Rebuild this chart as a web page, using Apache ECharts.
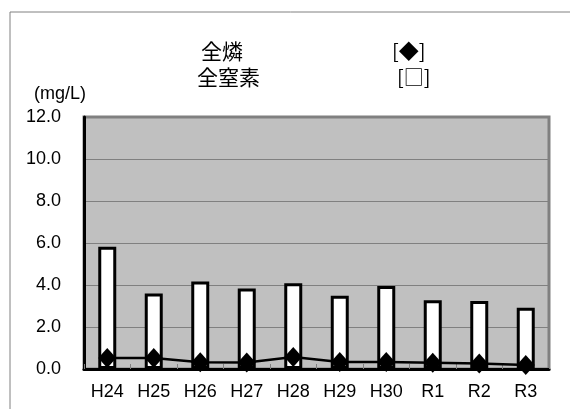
<!DOCTYPE html>
<html><head><meta charset="utf-8">
<script src="https://cdn.jsdelivr.net/npm/echarts@6/dist/echarts.min.js"></script>
<style>html,body{margin:0;padding:0;background:#fff}#c{width:570px;height:409px}</style>
</head><body><div id="c"></div>
<script>
const categories = ['H24','H25','H26','H27','H28','H29','H30','R1','R2','R3'];
const nitrogen = [5.82, 3.60, 4.17, 3.83, 4.08, 3.49, 3.95, 3.27, 3.24, 2.92];
const phosphorus = [0.52, 0.52, 0.32, 0.31, 0.57, 0.33, 0.33, 0.30, 0.26, 0.19];
const yTicks = [0, 2, 4, 6, 8, 10, 12];

const chart = echarts.init(document.getElementById('c'), null, {renderer: 'canvas'});
const font = '"Liberation Sans", Arial, sans-serif';
const cjk = '"Noto Sans CJK JP", sans-serif';
chart.setOption({
  animation: false,
  backgroundColor: '#fff',
  grid: {left: 84, top: 117, right: 21, bottom: 40, show: true,
         backgroundColor: '#c0c0c0', borderColor: '#808080', borderWidth: 3},
  graphic: [
    {type: 'rect', shape: {x: 10, y: 12, width: 600, height: 450}, style: {fill: 'none', stroke: '#808080', lineWidth: 1}, silent: true, z: -1},
    {type: 'text', left: 201, top: 41, style: {text: '全燐', font: '21px ' + cjk, fill: '#000'}},
    {type: 'text', left: 197, top: 67, style: {text: '全窒素', font: '21px ' + cjk, fill: '#000'}},
    {type: 'text', left: 392, top: 41, style: {text: '[◆]', font: '20px ' + cjk, fill: '#000'}},
    {type: 'text', left: 397, top: 67, style: {text: '[□]', font: '20px ' + cjk, fill: '#000'}},
    {type: 'text', left: 34, top: 85, style: {text: '(mg/L)', font: '18px ' + font, fill: '#000'}}
  ],
  xAxis: {
    type: 'category', data: categories, boundaryGap: true,
    axisLine: {lineStyle: {color: '#000', width: 3}},
    axisTick: {show: true, inside: true, length: 5, lineStyle: {color: '#808080', width: 1}},
    axisLabel: {color: '#000', fontSize: 18, fontFamily: font, margin: 14},
    splitLine: {show: false}
  },
  yAxis: {
    type: 'value', min: yTicks[0], max: yTicks[yTicks.length - 1], interval: 2,
    axisLine: {show: true, lineStyle: {color: '#000', width: 3}},
    axisTick: {show: false},
    axisLabel: {color: '#000', fontSize: 18, fontFamily: font, margin: 23,
                formatter: v => v.toFixed(1)},
    splitLine: {show: true, lineStyle: {color: '#808080', width: 1}}
  },
  series: [
    {name: '全窒素', type: 'bar', data: nitrogen, barWidth: 18,
     itemStyle: {color: '#fff', borderColor: '#000', borderWidth: 3}, z: 2},
    {name: '全燐', type: 'line', data: phosphorus, symbol: 'diamond', symbolSize: [18, 20],
     lineStyle: {color: '#000', width: 2.5}, itemStyle: {color: '#000'}, z: 3}
  ]
});
</script></body></html>
